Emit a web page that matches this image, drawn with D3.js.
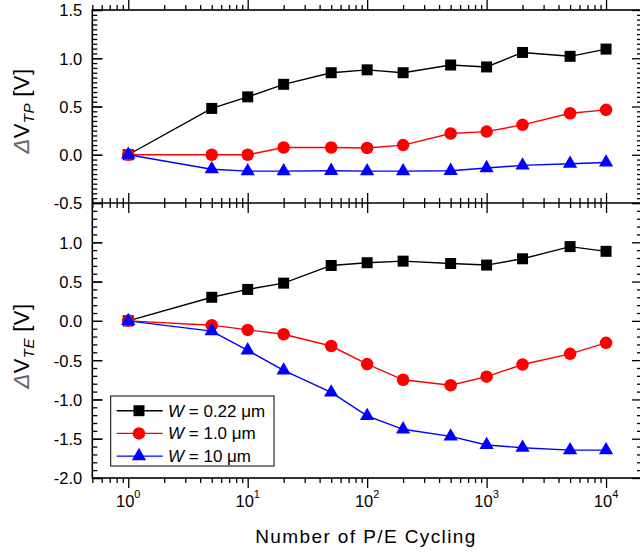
<!DOCTYPE html>
<html>
<head>
<meta charset="utf-8">
<script src="https://cdn.jsdelivr.net/npm/d3@7"></script>
<style>
  body { margin: 0; background: #fff; }
  svg text { font-family: "Liberation Sans", Arial, sans-serif; fill: #000; }
</style>
</head>
<body>
<div class="chart"></div>
<script>
// P/E cycles (x) shared by both panels
const cycles = [1, 5, 10, 20, 50, 100, 200, 500, 1000, 2000, 5000, 10000];

// top panel: delta V_TP [V]
const tpW022 = [0, 0.48, 0.60, 0.73, 0.85, 0.88, 0.85, 0.93, 0.91, 1.06, 1.02, 1.095];
const tpW1 = [0, 0, 0, 0.075, 0.075, 0.07, 0.10, 0.22, 0.24, 0.31, 0.43, 0.465];
const tpW10 = [0, -0.15, -0.17, -0.17, -0.166, -0.17, -0.17, -0.166, -0.138, -0.11, -0.093, -0.08];

// bottom panel: delta V_TE [V]
const teW022 = [0, 0.30, 0.40, 0.48, 0.705, 0.74, 0.76, 0.73, 0.71, 0.79, 0.945, 0.885];
const teW1 = [0, -0.055, -0.115, -0.17, -0.32, -0.55, -0.75, -0.82, -0.71, -0.555, -0.42, -0.28];
const teW10 = [0, -0.13, -0.375, -0.63, -0.91, -1.21, -1.38, -1.47, -1.58, -1.615, -1.645, -1.645];

const seriesNames = ["0.22", "1.0", "10"];
const topTicks = [-0.5, 0.0, 0.5, 1.0, 1.5];
const bottomTicks = [-2.0, -1.5, -1.0, -0.5, 0.0, 0.5, 1.0];
const xMajor = [1, 10, 100, 1000, 10000];

const width = 640, height = 554;
const plotLeft = 92.3, plotRight = 642;
const plotTop = 10, plotMid = 203, plotBottom = 478;

const svg = d3.select("div.chart").append("svg")
	.attr("width", width)
	.attr("height", height);

const x = d3.scaleLog().domain([0.5, 20000]).range([plotLeft, plotRight]);
const yTop = d3.scaleLinear().domain([-0.5, 1.5]).range([plotMid, plotTop]);
const yBot = d3.scaleLinear().domain([-2.0, 1.5]).range([plotBottom, plotMid]);

const xMinor = x.ticks().filter(d => !xMajor.includes(d) && d < 20000);
const fmt = d => d.toFixed(1);

// ---- axes ----
function yAxes(y, labels) {
	const all = y.ticks(35);
	const isHalf = d => Math.abs(d * 2 - Math.round(d * 2)) < 1e-6;
	const minor = all.filter(d => !isHalf(d));
	const major = all.filter(isHalf);
	svg.append("g").attr("transform", `translate(${plotLeft},0)`)
		.call(d3.axisLeft(y).tickValues(labels).tickSize(-10).tickPadding(10).tickFormat(fmt))
		.call(g => g.select(".domain").remove())
		.call(g => g.selectAll("text").style("font-size", "16.5px").attr("dy", "0.36em"));
	svg.append("g").attr("transform", `translate(${plotLeft},0)`)
		.call(d3.axisLeft(y).tickValues(major).tickSize(-10).tickFormat(""))
		.call(g => g.select(".domain").remove());
	svg.append("g").attr("transform", `translate(${plotLeft},0)`)
		.call(d3.axisLeft(y).tickValues(minor).tickSize(-5).tickFormat(""))
		.call(g => g.select(".domain").remove());
	svg.append("g").attr("transform", `translate(${plotRight},0)`)
		.call(d3.axisRight(y).tickValues(major).tickSize(-10).tickFormat(""))
		.call(g => g.select(".domain").remove());
	svg.append("g").attr("transform", `translate(${plotRight},0)`)
		.call(d3.axisRight(y).tickValues(minor).tickSize(-5).tickFormat(""))
		.call(g => g.select(".domain").remove());
}
yAxes(yTop, topTicks);
yAxes(yBot, bottomTicks);

function xAxis(gen, ypos, vals, size) {
	svg.append("g").attr("transform", `translate(0,${ypos})`)
		.call(gen(x).tickValues(vals).tickSize(size).tickFormat(""))
		.call(g => g.select(".domain").remove());
}
xAxis(d3.axisBottom, plotTop, xMajor, -10);
xAxis(d3.axisBottom, plotTop, xMinor, -5);
xAxis(d3.axisTop, plotMid, xMajor, 10);
xAxis(d3.axisTop, plotMid, xMinor, 5);
xAxis(d3.axisBottom, plotMid, xMajor, 10);
xAxis(d3.axisBottom, plotMid, xMinor, 5);
xAxis(d3.axisTop, plotBottom, xMajor, -10);
xAxis(d3.axisTop, plotBottom, xMinor, -5);

svg.selectAll("g.tick line").attr("stroke", "#000").attr("stroke-width", 1.3);

// x tick labels 10^n
const xl = svg.append("g").selectAll("text").data(xMajor).join("text")
	.attr("x", d => x(d))
	.attr("y", 507)
	.attr("text-anchor", "middle")
	.style("font-size", "16.5px");
xl.append("tspan").text("10");
xl.append("tspan").attr("dy", -9).style("font-size", "11px").text(d => Math.round(Math.log10(d)));

// frame
svg.append("rect").attr("x", plotLeft).attr("y", plotTop)
	.attr("width", plotRight - plotLeft).attr("height", plotBottom - plotTop)
	.attr("fill", "none").attr("stroke", "#000").attr("stroke-width", 1.6);
svg.append("line").attr("x1", plotLeft).attr("x2", plotRight).attr("y1", plotMid).attr("y2", plotMid)
	.attr("stroke", "#000").attr("stroke-width", 1.6);

// ---- series ----
const colors = ["#000000", "#ff0000", "#0000ff"];
const symbols = [d3.symbol(d3.symbolSquare, 121), d3.symbol(d3.symbolCircle, 123), d3.symbol(d3.symbolTriangle, 88)];

function drawPanel(y, sets) {
	sets.forEach((vals, i) => {
		const pts = cycles.map((c, j) => [c, vals[j]]);
		svg.append("path")
			.datum(pts)
			.attr("fill", "none")
			.attr("stroke", colors[i])
			.attr("stroke-width", 1.4)
			.attr("d", d3.line().x(d => x(d[0])).y(d => y(d[1])));
		svg.append("g").selectAll("path").data(pts).join("path")
			.attr("transform", d => `translate(${x(d[0])},${y(d[1])})`)
			.attr("d", symbols[i])
			.attr("fill", colors[i]);
	});
}
drawPanel(yTop, [tpW022, tpW1, tpW10]);
drawPanel(yBot, [teW022, teW1, teW10]);

// ---- legend ----
const lg = svg.append("g");
lg.append("rect").attr("x", 110.7).attr("y", 396).attr("width", 163.3).attr("height", 70)
	.attr("fill", "#fff").attr("stroke", "#000").attr("stroke-width", 1);
seriesNames.forEach((name, i) => {
	const ly = 410.7 + i * 22.7;
	lg.append("line").attr("x1", 116.7).attr("x2", 162.7).attr("y1", ly).attr("y2", ly)
		.attr("stroke", colors[i]).attr("stroke-width", 1.4);
	lg.append("path").attr("transform", `translate(139,${ly})`).attr("d", symbols[i]).attr("fill", colors[i]);
	const t = lg.append("text").attr("x", 168).attr("y", ly + 6).style("font-size", "17px");
	t.append("tspan").style("font-style", "italic").text("W");
	t.append("tspan").text(" = " + name + " ");
	t.append("tspan").text("\u03bcm");
});

// ---- axis titles ----
function yTitle(cy, sub) {
	const t = svg.append("text")
		.attr("transform", `translate(29,${cy}) rotate(-90)`)
		.attr("text-anchor", "middle")
		.style("font-size", "22px")
		.style("letter-spacing", "0.4px");
	t.append("tspan").style("font-style", "italic").style("fill", "#666").text("\u0394");
	t.append("tspan").text("V");
	t.append("tspan").attr("dy", 5).style("font-style", "italic").style("font-size", "15px").text(sub);
	t.append("tspan").attr("dy", -5).text(" [V]");
}
yTitle(111, "TP");
yTitle(346, "TE");

svg.append("text")
	.attr("x", 366).attr("y", 543)
	.attr("text-anchor", "middle")
	.style("font-size", "19px")
	.style("letter-spacing", "1.4px")
	.text("Number of P/E Cycling");
</script>
</body>
</html>
